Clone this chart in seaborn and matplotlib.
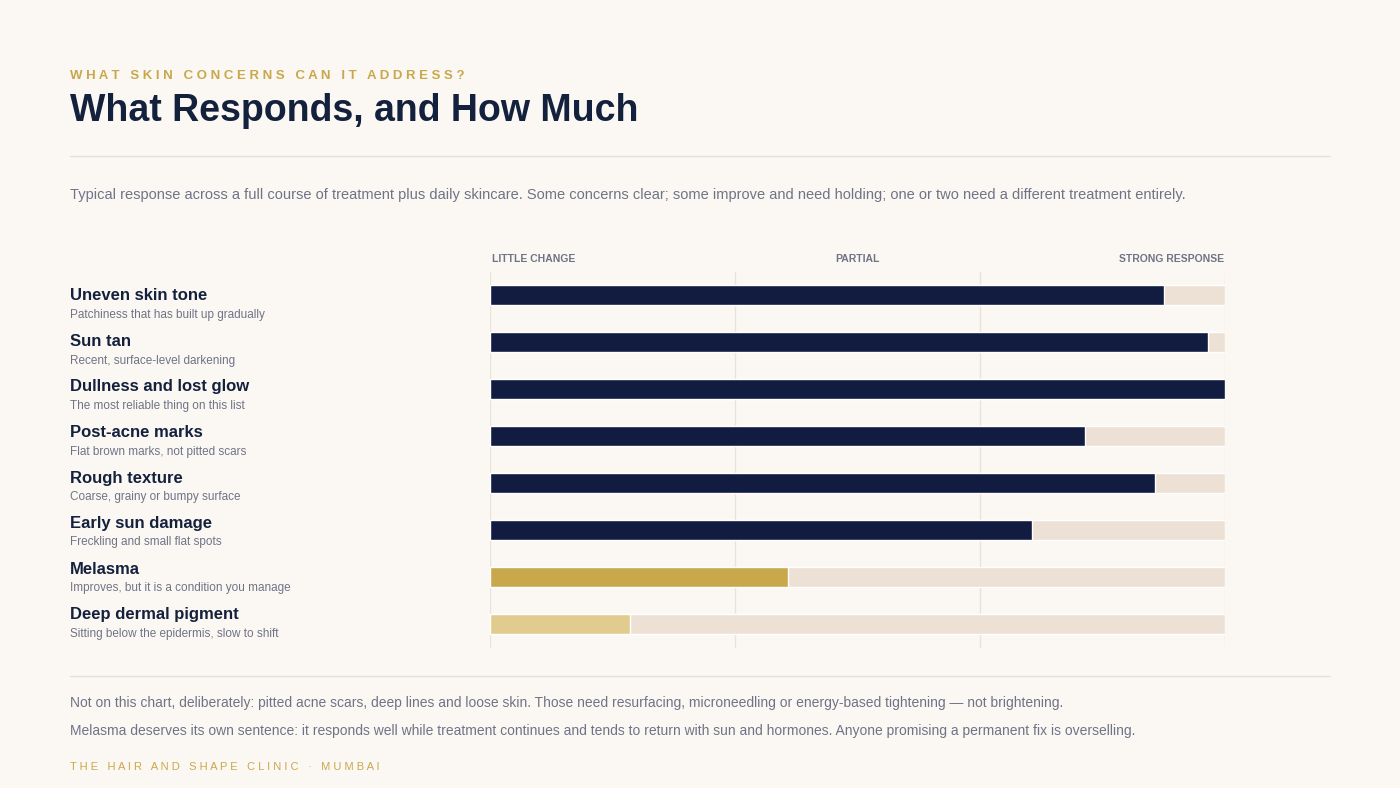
import matplotlib.pyplot as plt
import seaborn as sns
import pandas as pd

concerns = ["Uneven skin tone", "Sun tan", "Dullness and lost glow", "Post-acne marks",
            "Rough texture", "Early sun damage", "Melasma", "Deep dermal pigment"]
notes = ["Patchiness that has built up gradually", "Recent, surface-level darkening",
         "The most reliable thing on this list", "Flat brown marks, not pitted scars",
         "Coarse, grainy or bumpy surface", "Freckling and small flat spots",
         "Improves, but it is a condition you manage", "Sitting below the epidermis, slow to shift"]
response = [91.7, 97.7, 100, 81, 90.5, 73.8, 40.5, 19]
tier = ["strong", "strong", "strong", "strong", "strong", "strong", "partial", "little"]

palette = {"strong": "#111c40", "partial": "#c9a84c", "little": "#e2cb8e"}
bg = "#fbf8f3"
navy = "#14213d"
grey = "#6f7386"
gold = "#c9a84c"

df = pd.DataFrame({"concern": concerns, "response": response, "tier": tier, "full": 100})

sns.set_theme(style="white")
plt.rcParams["font.family"] = ["Liberation Sans", "DejaVu Sans"]

fig = plt.figure(figsize=(14, 7.88), dpi=100, facecolor=bg)
ax = fig.add_axes([0.35, 0.178, 0.525, 0.477])
ax.set_facecolor(bg)

sns.barplot(data=df, y="concern", x="full", color="#ede0d4", width=0.42, ax=ax, saturation=1)
sns.barplot(data=df, y="concern", x="response", hue="tier", palette=palette, width=0.42,
            dodge=False, legend=False, ax=ax, saturation=1)
for v in [0, 100/3, 200/3, 100]:
    ax.axvline(v, color="#e8e2d8", lw=1, zorder=0)
ax.set_xlim(0, 100)
ax.set_ylim(7.5, -0.5)
ax.set_xlabel("")
ax.set_ylabel("")
ax.set_xticks([])
ax.set_yticks([])
for s in ax.spines.values():
    s.set_visible(False)

# column headers
fig.text(492/1400, 1-259/788, "LITTLE CHANGE", fontsize=7.5, color=grey, weight="bold", va="center", ha="left")
fig.text(857/1400, 1-259/788, "PARTIAL", fontsize=7.5, color=grey, weight="bold", va="center", ha="center")
fig.text(1224/1400, 1-259/788, "STRONG RESPONSE", fontsize=7.5, color=grey, weight="bold", va="center", ha="right")

# row labels
for i, (c, n) in enumerate(zip(concerns, notes)):
    yc = 296 + i * 45.5
    fig.text(70/1400, 1-yc/788, c, fontsize=12, weight="bold", color=navy, va="center")
    fig.text(70/1400, 1-(yc+19)/788, n, fontsize=8.5, color=grey, va="center")

fig.text(70/1400, 1-76/788, "W H A T   S K I N   C O N C E R N S   C A N   I T   A D D R E S S ?",
         fontsize=9.5, weight="bold", color=gold, va="center")
fig.text(70/1400, 1-111/788, "What Responds, and How Much", fontsize=27, weight="bold", color=navy, va="center")
fig.add_artist(plt.Line2D([70/1400, 1330/1400], [1-156/788]*2, color="#e6e1d8", lw=1))
fig.text(70/1400, 1-195/788, "Typical response across a full course of treatment plus daily skincare. Some concerns clear; "
         "some improve and need holding; one or two need a different treatment entirely.",
         fontsize=10.5, color=grey, va="center")
fig.add_artist(plt.Line2D([70/1400, 1330/1400], [1-676/788]*2, color="#e6e1d8", lw=1))
fig.text(70/1400, 1-703/788, "Not on this chart, deliberately: pitted acne scars, deep lines and loose skin. Those need "
         "resurfacing, microneedling or energy-based tightening — not brightening.",
         fontsize=10, color=grey, va="center")
fig.text(70/1400, 1-731/788, "Melasma deserves its own sentence: it responds well while treatment continues and tends to "
         "return with sun and hormones. Anyone promising a permanent fix is overselling.",
         fontsize=10, color=grey, va="center")
fig.text(70/1400, 1-767/788, "T H E   H A I R   A N D   S H A P E   C L I N I C   ·   M U M B A I",
         fontsize=8, color=gold, va="center")

fig.savefig("out.png", dpi=100, facecolor=bg)
